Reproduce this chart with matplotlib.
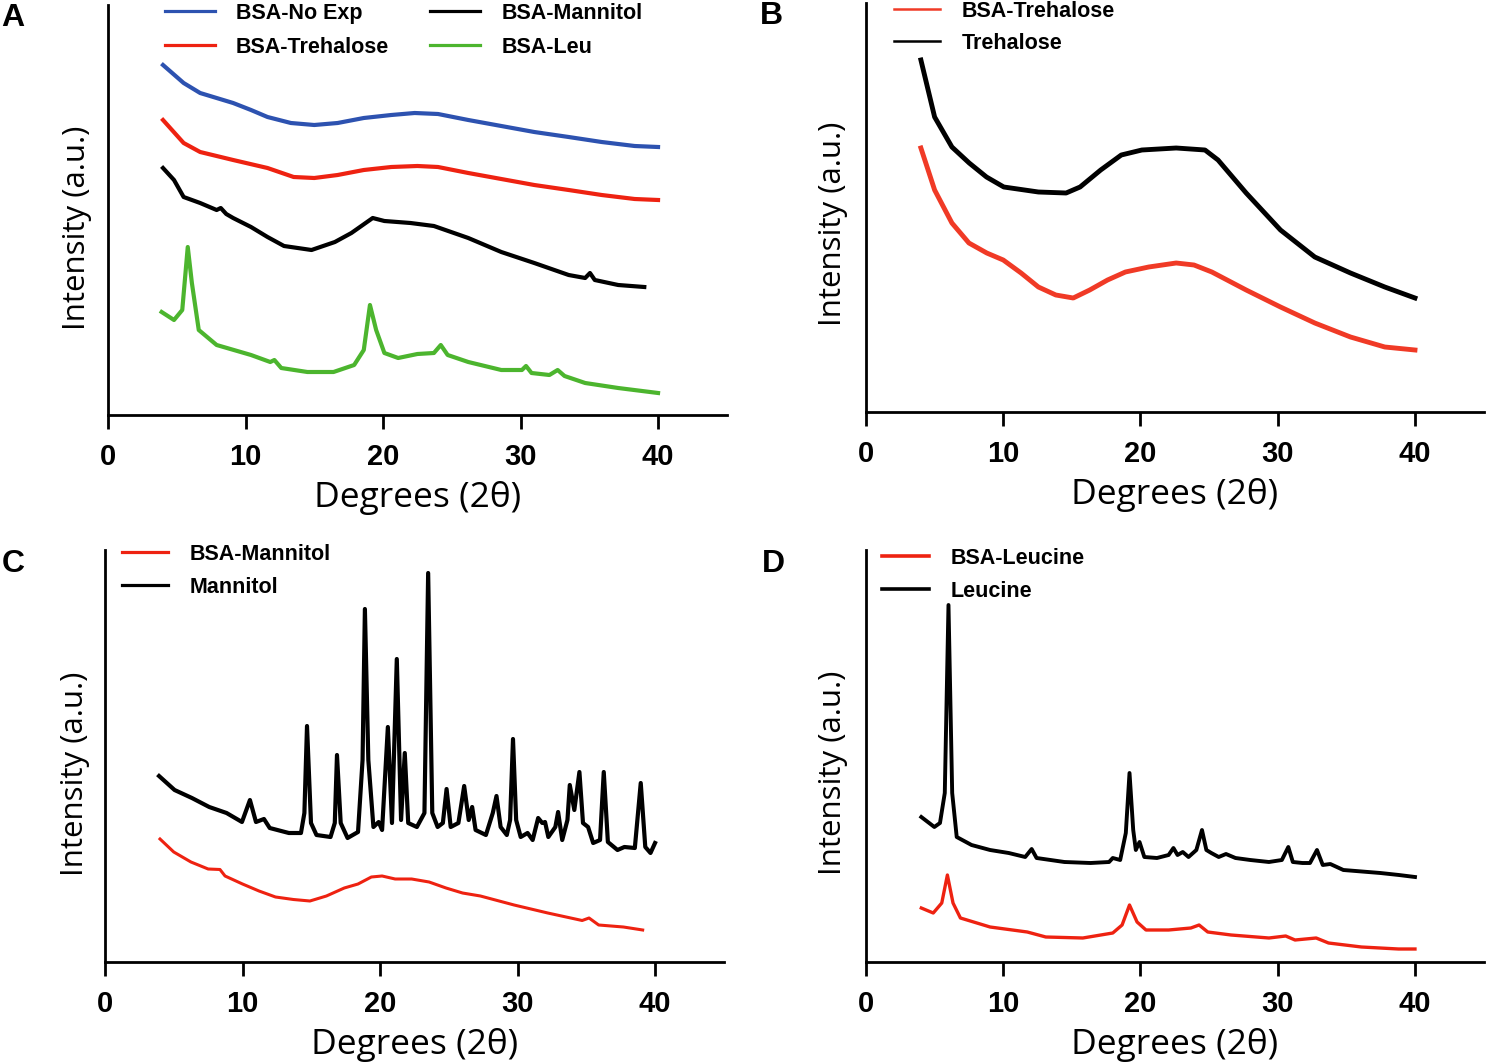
import matplotlib.pyplot as plt

# ---- panel A: BSA formulations (intensity in a.u.)
a_noexp_x = [4.0, 5.5, 6.7, 7.9, 9.1, 10.4, 11.6, 13.3, 15.0, 16.7, 18.6, 20.6, 22.3, 24.0, 26.2, 28.6, 31.0, 33.5, 35.9, 38.3, 40.0]
a_noexp_y = [350, 332, 322, 317, 312, 305, 298, 292, 290, 292, 297, 300, 302, 301, 295, 289, 283, 278, 273, 269, 268]

a_treh_x = [4.0, 5.5, 6.7, 9.1, 11.6, 13.5, 15.0, 16.7, 18.6, 20.6, 22.5, 24.0, 26.2, 28.6, 31.0, 33.5, 35.9, 38.3, 40.0]
a_treh_y = [295, 272, 263, 255, 247, 238, 237, 240, 245, 248, 249, 248, 242, 236, 230, 225, 220, 216, 215]

a_mann_x = [4.0, 4.8, 5.5, 6.7, 7.9, 8.2, 8.6, 9.1, 10.4, 11.6, 12.8, 14.8, 16.5, 17.7, 19.25, 20.1, 22.0, 23.7,
            26.2, 28.6, 31.0, 33.5, 34.7, 35.05, 35.4, 37.1, 39.0]
a_mann_y = [247, 235, 218, 212, 205, 207, 201, 197, 188, 178, 169, 165, 173, 182, 197, 194, 192, 189,
            177, 163, 152, 140, 137, 142, 135, 130, 128]

a_leu_x = [3.9, 4.8, 5.4, 5.8, 6.1, 6.6, 7.9, 10.4, 11.8, 12.1, 12.6, 14.5, 16.4, 17.9, 18.6, 19.05, 19.5, 20.1,
           21.1, 22.5, 23.7, 24.2, 24.7, 26.2, 28.6, 30.1, 30.4, 30.8, 32.1, 32.7, 33.2, 34.7, 37.1, 40.0]
a_leu_y = [103, 95, 105, 168, 132, 85, 70, 60, 53, 55, 47, 43, 43, 50, 65, 110, 85, 62,
           57, 61, 62, 70, 60, 53, 45, 45, 49, 42, 40, 45, 39, 32, 27, 22]

# ---- panel B: trehalose
b_bsa_x = [4.0, 5.0, 6.26, 7.5, 8.8, 10.0, 11.3, 12.56, 13.83, 15.1, 16.3, 17.6, 18.9, 20.6, 22.6, 23.9, 25.2,
           27.7, 30.2, 32.7, 35.3, 37.8, 40.0]
b_bsa_y = [264, 222, 189, 169, 159, 152, 139, 125, 117, 114, 122, 132, 140, 145, 149, 147, 140,
           122, 105, 89, 75, 65, 62]

b_pure_x = [4.0, 5.0, 6.26, 7.52, 8.78, 10.04, 12.56, 14.58, 15.6, 17.1, 18.6, 20.1, 22.6, 24.7, 25.65,
            27.7, 30.2, 32.7, 35.3, 37.8, 40.0]
b_pure_y = [352, 295, 265, 249, 235, 225, 220, 219, 225, 242, 257, 262, 264, 262, 252,
            219, 182, 155, 139, 125, 114]

# ---- panel C: mannitol
c_bsa_x = [4.0, 5.0, 6.25, 7.5, 8.36, 8.73, 10.0, 11.2, 12.4, 13.7, 14.9, 16.1, 17.4, 18.4, 19.37, 20.15, 21.1,
           22.3, 23.57, 24.8, 26.0, 27.3, 29.75, 32.2, 34.7, 35.2, 35.9, 37.7, 39.1]
c_bsa_y = [123, 110, 100, 93, 92.5, 86, 78, 71, 65, 62.5, 61, 66, 74, 78, 85, 86, 83,
           83, 80, 74, 69, 66, 57, 49, 41.5, 44, 37, 35, 32]

c_pure_x = [3.93, 5.06, 6.32, 7.58, 8.84, 9.96, 10.54, 10.98, 11.56, 11.98, 13.37, 14.25, 14.5, 14.69, 14.98,
            15.38, 16.4, 16.71, 16.87, 17.14, 17.64, 18.4, 18.73, 18.9, 19.15, 19.52, 19.9, 20.15, 20.57,
            20.87, 21.22, 21.53, 21.8, 22.05, 22.68, 23.23, 23.5, 23.8, 24.19, 24.57, 24.84, 25.14, 25.7,
            26.12, 26.45, 26.7, 26.95, 27.7, 28.2, 28.47, 28.77, 29.22, 29.46, 29.67, 29.9, 30.23, 30.73,
            31.1, 31.5, 31.8, 32.0, 32.24, 32.75, 32.95, 33.25, 33.63, 33.8, 34.13, 34.5, 34.76, 35.13,
            35.5, 36.0, 36.27, 36.57, 37.27, 37.77, 38.53, 38.96, 39.29, 39.67, 40.0]
c_pure_y = [186, 172, 164, 155, 149, 140, 162, 140, 143, 134, 129, 129, 149, 236, 139,
            127, 125, 139, 207, 139, 124, 130, 202, 353, 202, 135, 140, 132, 235,
            139, 303, 142, 209, 139, 135, 149, 389, 149, 135, 139, 173, 135, 139,
            176, 142, 155, 132, 127, 149, 166, 135, 127, 142, 223, 142, 125, 129,
            122, 144, 139, 140, 125, 135, 150, 122, 142, 177, 152, 190, 139, 135,
            119, 122, 190, 120, 112, 115, 114, 179, 115, 109, 119]

# ---- panel D: leucine
d_bsa_x = [4.03, 4.9, 5.52, 5.93, 6.34, 6.88, 9.04, 11.75, 13.1, 15.8, 17.98, 18.66, 19.2, 19.75, 20.4, 22.05,
           23.67, 24.27, 24.9, 26.6, 29.36, 30.58, 31.26, 32.8, 33.7, 36.1, 38.8, 40.0]
d_bsa_y = [54, 49, 59, 87, 59, 44, 35, 30, 25, 24, 29, 37, 57, 40, 32, 32,
           34, 37, 30, 27, 24, 26, 22, 24, 19, 15, 13, 13]

d_pure_x = [4.03, 4.98, 5.39, 5.74, 6.01, 6.28, 6.61, 7.69, 9.04, 10.4, 11.6, 12.07, 12.43, 14.46, 16.36, 17.71,
            17.98, 18.52, 18.93, 19.2, 19.47, 19.66, 19.93, 20.28, 21.2, 22.05, 22.4, 22.7, 23.08, 23.5,
            24.07, 24.48, 24.8, 25.16, 25.7, 26.23, 26.92, 28.0, 29.36, 30.3, 30.77, 31.1, 31.8, 32.35,
            32.86, 33.28, 33.83, 34.78, 37.48, 38.83, 40.0]
d_pure_y = [145, 135, 139, 169, 357, 169, 125, 117, 112, 109, 105, 113, 104, 100, 99, 100,
            104, 102, 129, 189, 132, 112, 120, 105, 104, 107, 114, 107, 110, 105,
            112, 132, 112, 109, 105, 108, 104, 102, 100, 102, 115, 100, 99, 99,
            112, 97, 98, 92, 89, 87, 85]

xticks = [0, 10, 20, 30, 40]

W, H = 1486, 1062
BLUE = "#2d52b0"
RED = "#ee2211"
GREEN = "#4cb52e"
TICK_FONT = {"family": "Liberation Sans", "weight": "bold", "size": 21}
LEG_FONT = {"family": "Liberation Sans", "weight": "bold", "size": 15.5}


def add_panel(fig, x0, x1, ytop, ybot, ymax):
    ax = fig.add_axes([x0 / W, 1 - ybot / H, (x1 - x0) / W, (ybot - ytop) / H])
    ax.set_xlim(0, 45)
    ax.set_ylim(0, ymax)
    for side in ("top", "right"):
        ax.spines[side].set_visible(False)
    for side in ("left", "bottom"):
        ax.spines[side].set_linewidth(2.0)
    ax.set_yticks([])
    ax.set_xticks(xticks)
    ax.set_xticklabels([str(t) for t in xticks], fontdict=TICK_FONT)
    ax.tick_params(axis="x", length=10, width=2.0, pad=10.5)
    ax.set_xlabel("Degrees (2θ)", fontsize=25.5, family="Open Sans")
    ax.set_ylabel("Intensity (a.u.)", fontsize=22.5, family="Open Sans")
    ax.xaxis.set_label_coords(0.5, -66 / (ybot - ytop))
    return ax


def place_legend(fig, ax, x, y, ncol=1, handlelength=2.3, labelspacing=0.55, columnspacing=1.9):
    ax.legend(loc="upper left", bbox_to_anchor=(x / W, 1 - y / H), bbox_transform=fig.transFigure,
              frameon=False, borderpad=0, borderaxespad=0, ncol=ncol, prop=LEG_FONT,
              handlelength=handlelength, handletextpad=1.0, labelspacing=labelspacing,
              columnspacing=columnspacing)


fig = plt.figure(figsize=(W / 100, H / 100), dpi=100)

# A
ax = add_panel(fig, 108, 726.8, 5, 415, 410)
ax.plot(a_noexp_x, a_noexp_y, color=BLUE, lw=3, label="BSA-No Exp")
ax.plot(a_treh_x, a_treh_y, color=RED, lw=3, label="BSA-Trehalose")
ax.plot(a_mann_x, a_mann_y, color="black", lw=3, label="BSA-Mannitol")
ax.plot(a_leu_x, a_leu_y, color=GREEN, lw=3, label="BSA-Leu")
ax.yaxis.set_label_coords(-0.026, 0.456)
place_legend(fig, ax, 165, 3, ncol=2, labelspacing=0.6)
for h in ax.get_legend().get_lines():
    h.set_linewidth(2.3)

# B
ax = add_panel(fig, 866, 1483.6, 3, 412, 409)
ax.plot(b_bsa_x, b_bsa_y, color="#f03a26", lw=3.5, label="BSA-Trehalose")
ax.plot(b_pure_x, b_pure_y, color="black", lw=3.5, label="Trehalose")
ax.yaxis.set_label_coords(-0.029, 0.46)
place_legend(fig, ax, 894, 1, handlelength=2.15, labelspacing=0.5)
for h in ax.get_legend().get_lines():
    h.set_linewidth(1.8)

# C
ax = add_panel(fig, 105, 723.8, 550, 962, 412)
ax.plot(c_bsa_x, c_bsa_y, color=RED, lw=2.2, label="BSA-Mannitol")
ax.plot(c_pure_x, c_pure_y, color="black", lw=3, label="Mannitol")
ax.yaxis.set_label_coords(-0.024, 0.456)
place_legend(fig, ax, 122, 544, handlelength=2.15, labelspacing=0.55)
for h in ax.get_legend().get_lines():
    h.set_linewidth(2.3)

# D
ax = add_panel(fig, 866, 1483.6, 550, 962, 412)
ax.plot(d_bsa_x, d_bsa_y, color=RED, lw=2.4, label="BSA-Leucine")
ax.plot(d_pure_x, d_pure_y, color="black", lw=2.8, label="Leucine")
ax.yaxis.set_label_coords(-0.029, 0.46)
place_legend(fig, ax, 882, 548, handlelength=2.2, labelspacing=0.55)
for h in ax.get_legend().get_lines():
    h.set_linewidth(2.6)

for letter, x, y in [("A", 13, 18), ("B", 771, 16), ("C", 13, 564), ("D", 773, 564)]:
    fig.text(x / W, 1 - y / H, letter, fontsize=23, fontweight="bold", family="Liberation Sans",
             ha="center", va="center")

fig.savefig("out.png", dpi=100)
